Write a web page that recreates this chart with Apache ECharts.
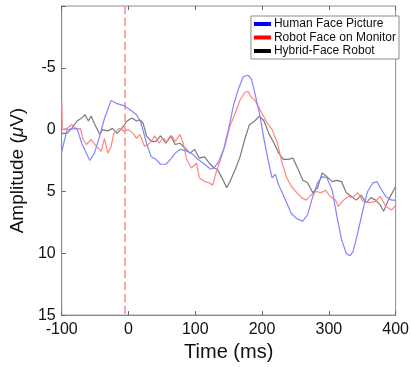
<!DOCTYPE html>
<html><head><meta charset="utf-8">
<script src="https://cdn.jsdelivr.net/npm/echarts@6/dist/echarts.min.js"></script>
<style>html,body{margin:0;padding:0;background:#fff}#c{width:412px;height:367px}</style>
</head><body><div id="c"></div>
<script>
const xTicks = [-100, 0, 100, 200, 300, 400];
const yTicks = [-5, 0, 5, 10, 15];
const stimulusTime = -5;

const humanT = [-100,-92,-77,-70,-58,-51,-43,-36,-26,-17,-5,5,12,19,27,34,41,48,56,63,70,77,85,94,104,114,123,128,135,143,150,157,164,172,179,184,189,196,203,210,215,220,225,235,244,252,261,268,276,283,290,297,305,312,319,326,331,336,343,351,358,366,372,377,385,394,400];
const humanV = [1.8,0,-0.1,1.1,2.5,1.9,0.5,-0.9,-2.35,-2.1,-1.9,-1.5,-1.2,-0.5,1.1,2.2,2.4,2.8,2.8,2.4,1.9,1.6,1.7,1.9,2.4,2.8,3.2,3.1,2.6,1.5,-0.1,-1.9,-3.2,-4.3,-4.4,-4.1,-3.0,-1.35,0.8,2.7,3.9,3.6,4.5,5.7,6.8,7.2,7.4,6.9,5.4,4.3,3.8,3.9,4.9,7.0,8.9,10.0,10.2,9.9,8.4,6.5,5.0,4.3,4.2,4.7,5.4,5.7,5.7];

const robotT = [-100,-99,-92,-85,-77,-72,-68,-63,-56,-48,-41,-36,-31,-26,-22,-14,-7,0,7,12,17,24,32,39,46,51,58,65,70,77,82,87,94,102,106,114,121,126,131,138,145,152,160,167,174,179,184,189,194,201,208,215,223,230,237,244,252,259,266,273,281,288,295,302,310,314,322,329,336,343,351,361,370,377,385,394,400];
const robotV = [-2.3,0,-0.1,-0.4,0,-0.1,0.8,1.2,0.8,1.35,1.75,0.7,1.9,1.35,0.3,-0.1,0.1,0,0.3,0.7,0.4,1.35,1.1,0.5,1.1,0.7,0.95,0.5,0.95,0.4,1.1,2.4,3.1,2.7,3.9,4.2,4.3,4.5,3.5,2.4,1.2,-0.3,-1.35,-2.4,-3.0,-3.1,-2.6,-2.4,-1.9,-1.2,-0.5,0,1.1,2.7,3.9,4.6,5.1,5.5,5.7,5.3,5.0,5.1,4.9,5.4,5.7,6.2,5.7,5.4,5.5,5.1,5.8,5.9,5.8,5.4,6.2,6.5,6.1];

const hybridT = [-100,-92,-85,-77,-70,-65,-60,-56,-51,-43,-39,-31,-24,-17,-10,-2,5,12,17,22,27,34,41,48,56,63,70,77,85,92,99,106,114,121,128,133,140,147,152,160,167,174,181,189,196,203,210,218,225,232,239,246,254,261,268,276,283,290,297,305,312,319,326,334,341,348,356,363,370,377,382,389,397,400];
const hybridV = [0.3,0.3,-0.1,-0.7,-0.95,-1.2,-0.7,-1.1,-0.5,0.4,0,0.1,-0.1,0.3,-0.1,-0.7,-0.95,-0.7,-0.8,-0.5,0.5,0.95,0.95,0.5,1.1,0.5,1.2,1.1,1.5,1.9,1.6,2.3,2.2,2.7,3.1,3.2,3.9,4.7,4.2,3.2,2.2,0.8,-0.4,-0.7,-1.1,-0.7,0.3,1.1,1.9,2.4,2.4,2.3,3.2,4.1,4.3,5.1,4.7,3.5,3.8,4.2,4.1,4.2,5.1,5.4,5.7,5.3,5.9,5.5,5.7,6.1,6.6,5.7,4.9,4.6];

const names = ['Human Face Picture', 'Robot Face on Monitor', 'Hybrid-Face Robot'];
const legendColors = ['#0000ff', '#ff0000', '#000000'];
const lineColors = ['#8585ff', '#ff8585', '#7a7a7a'];

function pairs(t, v) { return t.map((x, i) => [x, v[i]]); }
const seriesData = [pairs(humanT, humanV), pairs(robotT, robotV), pairs(hybridT, hybridV)];

const font = 'Liberation Sans, Arial, sans-serif';
const chart = echarts.init(document.getElementById('c'), null, {renderer: 'canvas'});
const series = names.map((n, i) => ({
  name: n, type: 'line', data: seriesData[i], showSymbol: false, symbol: 'none',
  itemStyle: {color: lineColors[i]},
  lineStyle: {color: lineColors[i], width: 1.2},
  z: 3 - i + 2,
  animation: false
}));
series[0].markLine = {
  silent: true, symbol: 'none', label: {show: false},
  lineStyle: {color: '#ff8a8a', type: [8, 4], width: 1.5},
  data: [{xAxis: stimulusTime}], animation: false
};
chart.setOption({
  animation: false,
  backgroundColor: '#fff',
  textStyle: {fontFamily: font},
  grid: {left: 59, right: 8, top: 6, bottom: 49, show: true, borderColor: '#8c8c8c', borderWidth: 1, backgroundColor: 'transparent'},
  legend: {
    orient: 'vertical', right: 13, top: 16,
    itemWidth: 17, itemHeight: 4, itemGap: 1.5, icon: 'rect',
    backgroundColor: '#fff', borderColor: '#8c8c8c', borderWidth: 1,
    padding: [2, 3, 2, 3],
    textStyle: {fontSize: 12, color: '#111', fontFamily: font, padding: [0, 0, 0, -2]},
    data: names.map((n, i) => ({name: n, itemStyle: {color: legendColors[i]}, lineStyle: {color: legendColors[i]}}))
  },
  xAxis: [{
    type: 'value', min: -100, max: 400, interval: 100,
    axisLine: {show: true, onZero: false, lineStyle: {color: '#8c8c8c'}},
    axisTick: {show: true, inside: true, length: 4, lineStyle: {color: '#666'}},
    axisLabel: {color: '#111', fontSize: 16, margin: 6, fontFamily: font},
    splitLine: {show: false},
    name: 'Time (ms)', nameLocation: 'middle', nameGap: 25,
    nameTextStyle: {color: '#111', fontSize: 20, fontFamily: font}
  }, {
    type: 'value', position: 'top', min: -100, max: 400, interval: 100,
    axisLine: {show: false, onZero: false}, axisLabel: {show: false}, splitLine: {show: false},
    axisTick: {show: true, inside: true, length: 4, lineStyle: {color: '#666'}}
  }],
  yAxis: {
    type: 'value', inverse: true, min: -10, max: 15, interval: 5,
    axisLine: {show: true, onZero: false, lineStyle: {color: '#8c8c8c'}},
    axisTick: {show: true, inside: true, length: 4, lineStyle: {color: '#666'}},
    axisLabel: {color: '#111', fontSize: 16, margin: 6, fontFamily: font,
      formatter: v => (yTicks.indexOf(v) >= 0 ? String(v) : '')},
    splitLine: {show: false},
    name: 'Amplitude ({i|μ}V)', nameLocation: 'middle', nameGap: 25,
    nameTextStyle: {color: '#111', fontSize: 19, fontFamily: font, padding: [0, 20, 0, 0],
      rich: {i: {fontStyle: 'italic', fontSize: 19, fontFamily: font, color: '#111'}}}
  },
  series: series
});
</script></body></html>
